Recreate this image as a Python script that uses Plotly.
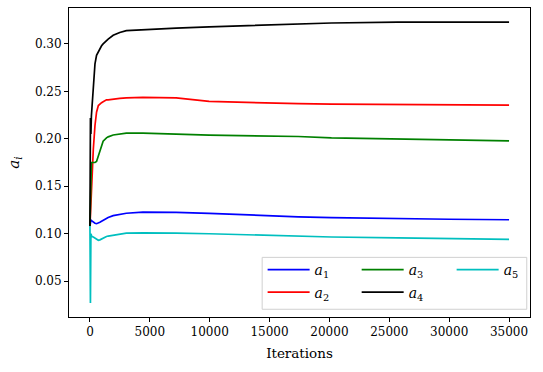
import plotly.graph_objects as go

iterations = [0, 40, 80, 120, 160, 280, 420, 550, 700, 830, 970, 1100, 1380, 1520,
              1940, 2490, 3040, 4420, 5800, 7200, 9950, 14650, 17400, 20170, 25700,
              30000, 35000]

a1 = [0.108, 0.112, 0.1143, 0.114, 0.1135, 0.112, 0.111, 0.1105, 0.111, 0.112, 0.113,
      0.114, 0.116, 0.117, 0.119, 0.1205, 0.1215, 0.1227, 0.1227, 0.1225, 0.1214,
      0.119, 0.1178, 0.117, 0.1157, 0.1152, 0.1147]
a2 = [0.108, 0.120, 0.136, 0.150, 0.160, 0.189, 0.214, 0.228, 0.235, 0.237, 0.238,
      0.239, 0.241, 0.241, 0.242, 0.2426, 0.243, 0.2436, 0.2434, 0.243, 0.2394,
      0.2375, 0.237, 0.2366, 0.236, 0.2357, 0.2355]
a3 = [0.108, 0.150, 0.170, 0.175, 0.175, 0.175, 0.175, 0.176, 0.182, 0.189, 0.194,
      0.1975, 0.201, 0.202, 0.204, 0.205, 0.2059, 0.206, 0.2059, 0.205, 0.2038,
      0.2028, 0.2024, 0.201, 0.1996, 0.1988, 0.1978]
a4 = [0.108, 0.222, 0.205, 0.224, 0.232, 0.263, 0.279, 0.288, 0.292, 0.295, 0.298,
      0.300, 0.304, 0.305, 0.309, 0.312, 0.314, 0.315, 0.316, 0.3166, 0.318, 0.320,
      0.321, 0.322, 0.323, 0.323, 0.323]
a5 = [0.108, 0.027, 0.100, 0.098, 0.097, 0.0965, 0.095, 0.094, 0.093, 0.0935, 0.0945,
      0.0955, 0.097, 0.0975, 0.0985, 0.0995, 0.1005, 0.1009, 0.101, 0.1005, 0.0999,
      0.0985, 0.097, 0.0965, 0.0956, 0.0948, 0.0939]

# name, values, colour, legend slot (column, row) like matplotlib's ncol=3
series = [
    ("<i>a</i><sub>1</sub>", a1, "#0000ff", 0, 0),
    ("<i>a</i><sub>2</sub>", a2, "#ff0000", 0, 1),
    ("<i>a</i><sub>3</sub>", a3, "#008000", 1, 0),
    ("<i>a</i><sub>4</sub>", a4, "#000000", 1, 1),
    ("<i>a</i><sub>5</sub>", a5, "#00bfbf", 2, 0),
]

font = "DejaVu Serif"

legend_cols = [0.42, 0.624, 0.83]
legend_rows = [0.152, 0.079]

fig = go.Figure()

legends = {}
for i, (name, values, color, col, row) in enumerate(series):
    key = "legend" if i == 0 else f"legend{i + 1}"
    fig.add_trace(
        go.Scatter(
            x=iterations,
            y=values,
            mode="lines",
            name=name,
            line=dict(color=color, width=1.7),
            legend=key,
        )
    )
    legends[key] = dict(
        x=legend_cols[col],
        y=legend_rows[row],
        xanchor="left",
        yanchor="middle",
        bgcolor="rgba(0,0,0,0)",
        borderwidth=0,
        itemwidth=42,
        font=dict(family=font, size=14),
    )

# legend frame
fig.add_shape(
    type="rect",
    xref="paper",
    yref="paper",
    x0=0.419,
    x1=0.993,
    y0=0.025,
    y1=0.193,
    line=dict(color="#d0d0d0", width=1),
    fillcolor="rgba(255,255,255,0.8)",
    layer="above",
)

axis_style = dict(
    showline=True,
    linecolor="black",
    linewidth=1,
    mirror=True,
    ticks="outside",
    ticklen=4,
    tickcolor="black",
    showgrid=False,
    zeroline=False,
    automargin=False,
    tickfont=dict(family=font, size=12, color="black"),
)

fig.update_layout(
    width=543,
    height=372,
    margin=dict(l=69, r=13, t=8, b=55),
    paper_bgcolor="white",
    plot_bgcolor="white",
    font=dict(family=font, size=12, color="black"),
    xaxis=dict(
        axis_style,
        range=[-1750, 36750],
        tickvals=[0, 5000, 10000, 15000, 20000, 25000, 30000, 35000],
        tickformat="d",
        title=dict(text="Iterations", font=dict(family=font, size=13.5), standoff=10),
    ),
    yaxis=dict(
        axis_style,
        range=[0.0122, 0.3378],
        tickvals=[0.05, 0.10, 0.15, 0.20, 0.25, 0.30],
        tickformat=".2f",
        title=dict(text="<i>a</i><sub><i>i</i></sub>", font=dict(family=font, size=15), standoff=11),
    ),
    showlegend=True,
    **legends,
)

fig.write_html(
    "out.html",
    config={"displayModeBar": False},
    post_script="document.body.style.margin = '0';",
)
